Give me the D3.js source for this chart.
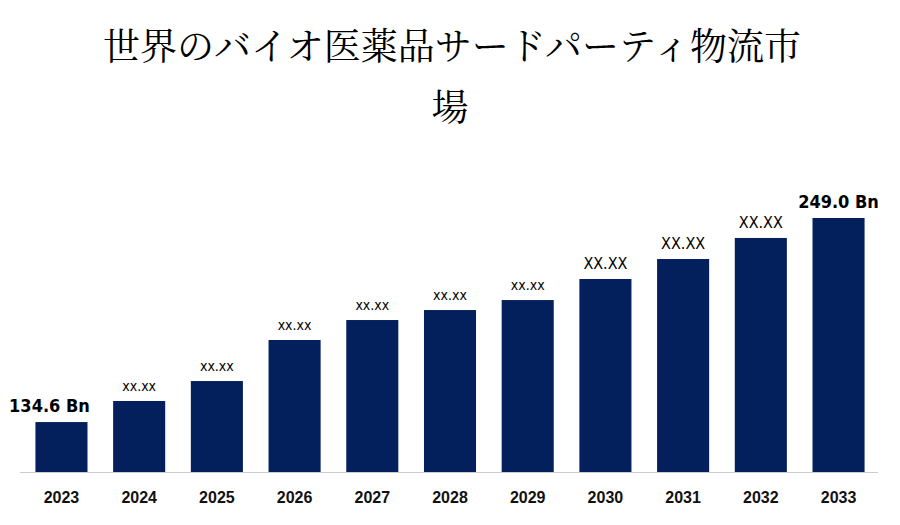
<!DOCTYPE html>
<html><head><meta charset="utf-8">
<script src="https://cdn.jsdelivr.net/npm/d3@7"></script>
<style>body{margin:0;background:#fff}</style></head>
<body><div id="chart"></div>
<script>
const years = ["2023","2024","2025","2026","2027","2028","2029","2030","2031","2032","2033"];
const values = [134.6,146.4,157.6,180.6,191.8,197.4,203.0,214.8,226.0,237.8,249.0];
const labels = ["134.6 Bn","xx.xx","xx.xx","xx.xx","xx.xx","xx.xx","xx.xx","XX.XX","XX.XX","XX.XX","249.0 Bn"];
const labelSize = [18,14,14,14,14,14,14,16,16,16,18];

const W = 900, H = 525;
const svg = d3.select("#chart").append("svg").attr("width", W).attr("height", H);

svg.append("text").attr("x", 452).attr("y", 60).attr("text-anchor", "middle")
  .style("font-family", "'Noto Serif CJK JP','Noto Sans CJK JP',serif").style("font-size", "37px")
  .text("世界のバイオ医薬品サードパーティ物流市");
svg.append("text").attr("x", 450).attr("y", 121).attr("text-anchor", "middle")
  .style("font-family", "'Noto Serif CJK JP','Noto Sans CJK JP',serif").style("font-size", "37px")
  .text("場");

const x = d3.scaleBand().domain(years).range([23, 877]).paddingInner(0.33).paddingOuter(0.16);
const y = d3.scaleLinear().domain([106.6, 249]).range([472, 218]);

svg.selectAll("rect").data(values).enter().append("rect")
  .attr("x", (d, i) => x(years[i]))
  .attr("y", d => y(d))
  .attr("width", x.bandwidth())
  .attr("height", d => 472 - y(d))
  .attr("fill", "#03205c");

svg.append("line").attr("x1", 20).attr("x2", 878).attr("y1", 472.5).attr("y2", 472.5)
  .attr("stroke", "#ccc");

svg.selectAll(".lbl").data(values).enter().append("text")
  .attr("x", (d, i) => x(years[i]) + x.bandwidth() / 2 + (i === 0 ? -12 : 0))
  .attr("y", d => y(d) - 10)
  .attr("text-anchor", "middle")
  .style("font-family", "'Liberation Sans Narrow','DejaVu Sans Condensed',Arial,sans-serif")
  .style("font-weight", (d, i) => labelSize[i] > 16 ? "bold" : "normal")
  .style("font-size", (d, i) => labelSize[i] + "px")
  .text((d, i) => labels[i]);

const xAxis = svg.append("g").attr("transform", "translate(0,472)")
  .call(d3.axisBottom(x).tickSize(0).tickPadding(20));
xAxis.select(".domain").remove();
xAxis.selectAll("text").style("font-family", "'Liberation Sans',Arial,sans-serif")
  .style("font-size", "16px").style("font-weight", "bold").attr("fill", "#111");
</script></body></html>
